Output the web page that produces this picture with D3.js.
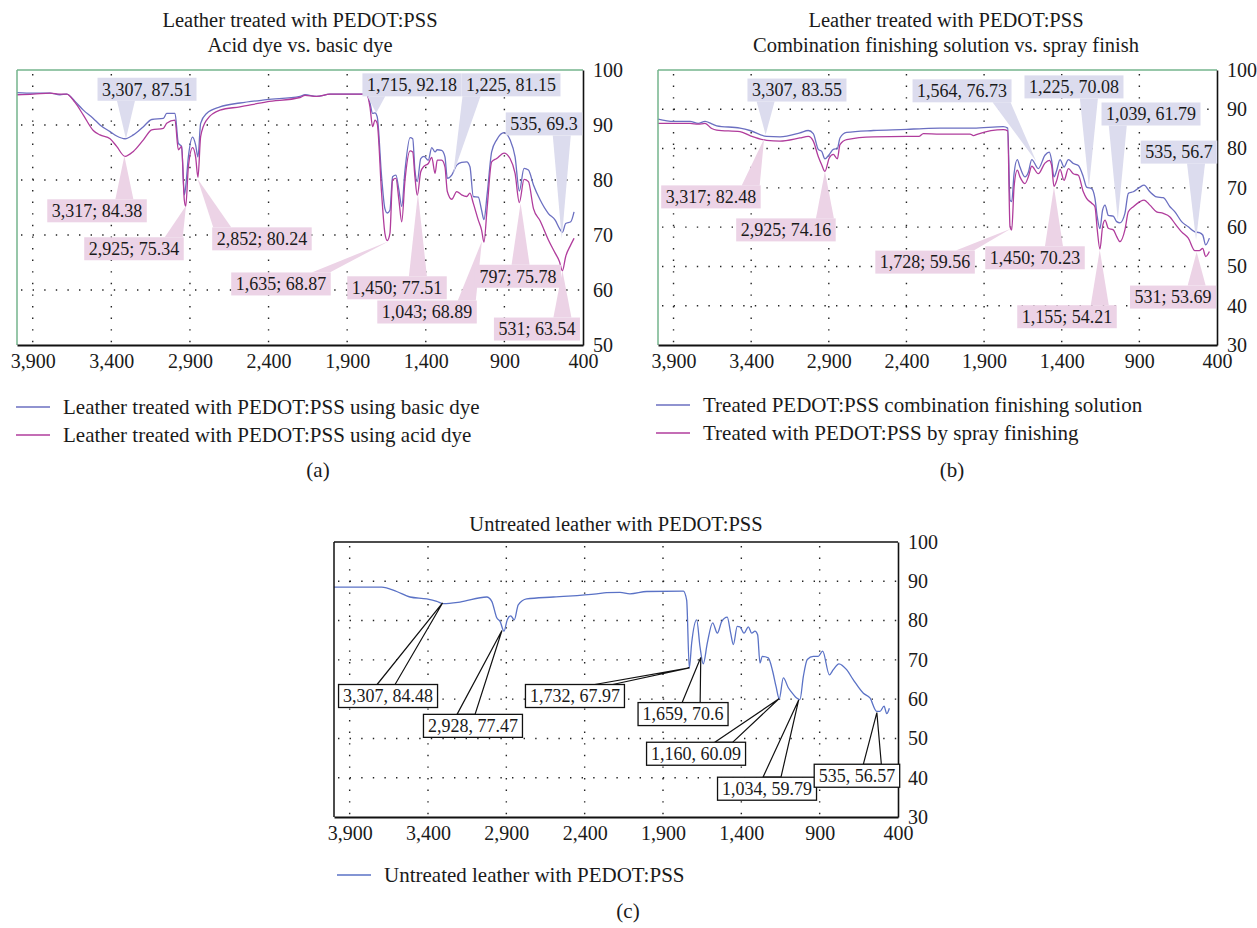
<!DOCTYPE html>
<html>
<head>
<meta charset="utf-8">
<script src="https://cdn.jsdelivr.net/npm/d3@7/dist/d3.min.js"></script>
<style>
body { margin: 0; background: #fff; }
svg text { font-family: "Liberation Serif", "DejaVu Serif", serif; fill: #1a1a1a; }
</style>
</head>
<body>
<div id="chart"></div>
<script>
// ---- data (wavenumber cm-1, transmittance %) ----
var xTicks = [3900, 3400, 2900, 2400, 1900, 1400, 900, 400];
var yTicksA = [50, 60, 70, 80, 90, 100];
var yTicksB = [30, 40, 50, 60, 70, 80, 90, 100];

var basicDye = [[4000,95.9],[3896,95.8],[3790,95.8],[3727,95.5],[3684,95.6],[3631,94.3],[3578,92.7],[3515,91.2],[3472,90.0],[3408,88.8],[3366,88.0],[3313,87.5],[3260,88.2],[3196,89.7],[3143,91.0],[3069,91.2],[3048,92.1],[2995,92.1],[2974,86.7],[2953,86.1],[2936,77.3],[2927,78.8],[2910,84.2],[2883,87.8],[2864,86.4],[2849,84.2],[2832,90.3],[2794,92.1],[2709,93.3],[2582,94.0],[2412,94.6],[2200,95.2],[2168,95.5],[2094,95.2],[2009,95.6],[1946,95.6],[1776,95.6],[1755,94.0],[1738,92.1],[1723,92.2],[1709,91.5],[1681,80.6],[1660,74.8],[1645,74.0],[1628,74.5],[1611,80.6],[1590,80.9],[1571,78.2],[1553,75.2],[1532,81.8],[1500,87.7],[1483,87.5],[1469,81.8],[1454,79.7],[1432,83.9],[1411,84.3],[1384,83.6],[1362,85.9],[1341,85.1],[1327,85.5],[1299,85.4],[1278,84.2],[1263,80.3],[1235,80.9],[1203,82.7],[1172,83.2],[1140,83.3],[1119,82.4],[1098,77.0],[1066,76.9],[1045,74.5],[1030,72.8],[1009,77.6],[981,85.1],[949,87.3],[902,88.6],[864,87.3],[832,84.2],[805,78.0],[775,82.1],[747,81.8],[715,79.1],[673,76.4],[620,73.9],[577,72.7],[550,71.2],[531,70.5],[510,72.1],[478,72.4],[457,74.2]];
var acidDye = [[4000,95.5],[3896,95.6],[3790,95.8],[3727,95.6],[3684,95.6],[3631,94.1],[3578,91.8],[3515,89.0],[3472,88.2],[3408,87.5],[3366,86.1],[3313,84.3],[3260,85.2],[3196,87.3],[3143,89.1],[3069,89.4],[3048,90.3],[2995,90.9],[2974,85.5],[2953,86.1],[2936,76.4],[2927,75.2],[2910,82.4],[2883,85.9],[2864,84.2],[2849,80.5],[2832,87.9],[2794,90.9],[2709,92.7],[2582,93.3],[2412,94.2],[2200,95.0],[2168,95.4],[2094,95.2],[2009,95.6],[1946,95.6],[1776,95.6],[1755,93.3],[1738,89.7],[1723,90.9],[1709,90.3],[1681,77.6],[1660,70.3],[1645,69.0],[1628,70.3],[1611,80.0],[1590,80.3],[1571,76.4],[1553,72.4],[1532,80.0],[1500,85.3],[1483,85.1],[1469,80.6],[1454,77.2],[1432,81.5],[1411,82.5],[1384,83.0],[1362,84.1],[1341,81.2],[1327,83.6],[1299,83.6],[1278,82.4],[1263,77.9],[1235,76.5],[1203,77.9],[1172,77.3],[1140,77.0],[1119,77.6],[1098,75.8],[1066,72.7],[1045,70.9],[1030,68.7],[1009,75.2],[981,83.3],[949,83.9],[902,84.9],[864,83.9],[832,81.2],[805,75.9],[775,80.1],[747,79.7],[715,74.8],[673,72.6],[620,69.1],[577,66.7],[550,65.2],[531,63.5],[510,66.1],[478,68.2],[457,69.4]];

var combination = [[4000,87.5],[3901,86.9],[3794,86.9],[3741,86.4],[3697,86.9],[3654,86.3],[3622,85.8],[3472,85.2],[3408,84.6],[3300,83.1],[3214,83.0],[3086,84.0],[3032,84.6],[3000,83.8],[2968,79.8],[2946,79.3],[2925,77.4],[2897,78.5],[2871,79.8],[2845,80.0],[2828,82.7],[2785,84.1],[2613,84.6],[2398,84.9],[2291,85.1],[2184,85.2],[1969,85.2],[1776,85.6],[1748,85.2],[1733,66.9],[1722,66.5],[1707,73.6],[1686,77.2],[1669,75.3],[1637,72.8],[1615,74.0],[1593,77.2],[1551,74.9],[1508,78.3],[1480,79.1],[1465,77.0],[1450,72.8],[1432,74.5],[1411,77.2],[1385,75.3],[1357,77.2],[1325,76.2],[1293,75.7],[1261,72.8],[1240,70.2],[1207,69.8],[1186,67.3],[1171,62.6],[1154,59.6],[1137,64.3],[1121,65.6],[1100,63.0],[1068,62.8],[1046,61.4],[1025,61.1],[993,63.5],[971,68.6],[939,69.0],[896,70.2],[870,70.7],[832,69.0],[789,67.7],[746,67.5],[703,65.2],[671,63.9],[628,61.4],[585,60.1],[542,58.8],[514,58.6],[492,58.0],[473,55.5],[449,57.2]];
var spray = [[4000,86.4],[3901,86.4],[3794,86.4],[3741,86.2],[3697,86.4],[3654,85.1],[3622,84.7],[3472,84.3],[3408,83.3],[3300,82.1],[3214,81.9],[3086,82.7],[3032,83.1],[3000,81.9],[2968,78.0],[2946,75.9],[2925,74.2],[2897,77.6],[2871,78.5],[2845,77.4],[2828,81.0],[2785,82.3],[2613,83.0],[2398,83.1],[2320,83.1],[2291,83.8],[2184,83.7],[1990,83.7],[1969,83.3],[1940,83.7],[1776,84.8],[1748,84.5],[1733,60.1],[1722,59.3],[1707,70.2],[1686,74.5],[1669,72.8],[1637,71.1],[1615,72.8],[1593,75.5],[1551,73.6],[1508,76.3],[1480,77.0],[1465,75.7],[1450,70.4],[1432,71.9],[1411,74.7],[1385,71.9],[1357,74.9],[1325,73.6],[1293,73.2],[1261,69.0],[1240,67.3],[1207,66.1],[1186,65.2],[1171,59.3],[1154,54.4],[1137,60.1],[1121,61.8],[1100,59.7],[1068,59.3],[1046,57.6],[1025,56.3],[993,59.3],[971,63.9],[939,65.2],[896,66.5],[870,66.9],[832,65.6],[789,63.9],[746,63.5],[703,62.6],[671,60.9],[628,58.8],[585,57.2],[542,54.0],[514,54.0],[492,54.6],[473,52.5],[449,53.8]];

var untreated = [[4000,88.5],[3696,88.5],[3600,87.4],[3515,86.0],[3408,85.5],[3344,84.9],[3302,84.3],[3196,84.7],[3025,86.0],[2993,84.9],[2961,80.7],[2940,79.8],[2915,77.3],[2894,80.2],[2872,81.2],[2849,80.2],[2824,84.0],[2770,85.5],[2600,86.0],[2323,86.8],[2260,87.1],[2174,87.2],[2111,86.8],[2004,87.4],[1770,87.5],[1749,85.2],[1732,67.9],[1717,74.3],[1685,80.2],[1664,73.4],[1643,69.0],[1617,74.3],[1583,79.4],[1553,76.8],[1525,79.8],[1490,80.9],[1468,76.8],[1451,73.9],[1426,78.5],[1409,78.4],[1383,76.8],[1355,78.4],[1334,76.8],[1313,77.3],[1296,76.4],[1281,69.2],[1266,70.9],[1228,70.5],[1200,67.1],[1179,63.3],[1158,60.1],[1132,65.4],[1100,62.9],[1068,61.2],[1047,60.3],[1026,59.9],[1004,65.8],[979,70.1],[941,70.9],[909,70.9],[881,72.2],[838,66.2],[813,67.5],[777,69.0],[728,67.5],[685,64.9],[621,61.5],[579,60.3],[536,56.9],[515,56.9],[489,58.2],[472,56.3],[455,57.7]];

// peak labels: text, peak wavenumber, peak value, series index
var peaksA = [
  ["3,307, 87.51", 3307, 87.51, 0], ["3,317; 84.38", 3317, 84.38, 1],
  ["2,925; 75.34", 2925, 75.34, 1], ["2,852; 80.24", 2852, 80.24, 1],
  ["1,635; 68.87", 1635, 68.87, 1], ["1,715, 92.18", 1715, 92.18, 0],
  ["1,225, 81.15", 1225, 81.15, 0], ["535, 69.3", 535, 69.3, 0],
  ["1,450; 77.51", 1450, 77.51, 1], ["1,043; 68.89", 1043, 68.89, 1],
  ["797; 75.78", 797, 75.78, 1], ["531; 63.54", 531, 63.54, 1]
];
var peaksB = [
  ["3,307, 83.55", 3307, 83.55, 0], ["3,317; 82.48", 3317, 82.48, 1],
  ["2,925; 74.16", 2925, 74.16, 1], ["1,728; 59.56", 1728, 59.56, 1],
  ["1,564, 76.73", 1564, 76.73, 0], ["1,225, 70.08", 1225, 70.08, 0],
  ["1,039, 61.79", 1039, 61.79, 0], ["535, 56.7", 535, 56.7, 0],
  ["1,450; 70.23", 1450, 70.23, 1], ["1,155; 54.21", 1155, 54.21, 1],
  ["531; 53.69", 531, 53.69, 1]
];
var peaksC = [
  ["3,307, 84.48", 3307, 84.48, 0], ["2,928, 77.47", 2928, 77.47, 0],
  ["1,732, 67.97", 1732, 67.97, 0], ["1,659, 70.6", 1659, 70.6, 0],
  ["1,160, 60.09", 1160, 60.09, 0], ["1,034, 59.79", 1034, 59.79, 0],
  ["535, 56.57", 535, 56.57, 0]
];

// label box centres in axis units, plus optional pointer base position along the box (layout only)
var boxA = [[3173,96.5],[3491,74.4],[3256,67.5],[2442,69.3],[2321,61.1],[1488,97.3],[858,97.3],[648,90.2],[1583,60.4],[1392,56.0],[814,62.5],[693,52.9]];
var boxB = [[3105,94.9],[3659,67.7],[3176,59.3],[2280,51.1],[2042,94.7],[1321,95.7],[825,88.8],[645,79.1],[1572,52.2],[1366,37.2],[683,42.2]];
var boxC = [[3655,60.8,0.48],[3113,53.2,0.43],[2462,60.8,0.79],[1772,56.2,0.59],[1689,46.1,0.78],[1236,37.2,0.55],[662,40.5,0.68]];

var blue = "#6b6fc1", magenta = "#b03c9c", blueC = "#5a72c6";
var fillBlue = "#dcdcee", fillMag = "#ecd3e6";
var green = "#74b48c";

var svg = d3.select("#chart").append("svg")
    .attr("width", 1257).attr("height", 928);

function drawPanel(p) {
  var g = svg.append("g");
  var x = d3.scaleLinear().domain([4000, 400]).range([p.left, p.left + p.width]);
  var y = d3.scaleLinear().domain(p.yDomain).range([p.top + p.height, p.top]);

  // dotted grid
  g.selectAll(".vg").data(xTicks.slice(0, -1)).enter().append("line")
    .attr("x1", d => x(d)).attr("x2", d => x(d))
    .attr("y1", p.top + 4).attr("y2", p.top + p.height)
    .attr("stroke", "#222").attr("stroke-width", 1.4)
    .attr("stroke-dasharray", "1.4,10.2");
  g.selectAll(".hg").data(p.yTicks.slice(1, -1)).enter().append("line")
    .attr("x1", p.left + 4).attr("x2", p.left + p.width)
    .attr("y1", d => y(d)).attr("y2", d => y(d))
    .attr("stroke", "#222").attr("stroke-width", 1.4)
    .attr("stroke-dasharray", "1.4,10.2");

  var line = d3.line().x(d => x(d[0])).y(d => y(d[1])).curve(d3.curveMonotoneX);
  p.series.forEach(function(s) {
    g.append("path").datum(s.values)
      .attr("d", line).attr("fill", "none")
      .attr("stroke", s.color).attr("stroke-width", 1.3);
  });

  // frame
  var fc = p.frameColor;
  g.append("line").attr("x1", p.left).attr("x2", p.left)
    .attr("y1", p.top).attr("y2", p.top + p.height)
    .attr("stroke", fc).attr("stroke-width", 1.5);
  g.append("line").attr("x1", p.left).attr("x2", p.left + p.width)
    .attr("y1", p.top).attr("y2", p.top)
    .attr("stroke", fc).attr("stroke-width", 1.5);

  var ax = g.append("g").attr("transform", "translate(0," + (p.top + p.height) + ")")
    .call(d3.axisBottom(x).tickValues(xTicks).tickSize(0).tickPadding(9).tickFormat(d3.format(",")));
  ax.select(".domain").attr("stroke", "#111").attr("stroke-width", 2.2);
  ax.selectAll("text").style("font-size", "20px").style("font-family", "Liberation Serif");

  var ay = g.append("g").attr("transform", "translate(" + (p.left + p.width) + ",0)")
    .call(d3.axisRight(y).tickValues(p.yTicks).tickSize(0).tickPadding(10));
  ay.select(".domain").attr("stroke", "#111").attr("stroke-width", 1.6);
  ay.selectAll("text").style("font-size", "20px").style("font-family", "Liberation Serif");

  // titles
  p.titles.forEach(function(t, i) {
    g.append("text").attr("x", p.titleX).attr("y", p.titleY + i * 25)
      .attr("text-anchor", "middle").style("font-size", "20.5px").text(t);
  });

  // peak callouts
  var wedges = g.append("g"), boxes = g.append("g");
  p.peaks.forEach(function(pk, i) {
    var tx = x(pk[1]), ty = y(pk[2]);
    var cx = x(p.boxes[i][0]), cy = y(p.boxes[i][1]);
    var s = p.series[pk[3]];
    var fillC = p.outline ? "#fff" : s.fill;
    var txt = boxes.append("text").attr("x", cx).attr("y", cy)
      .attr("text-anchor", "middle").attr("dy", "0.35em")
      .style("font-size", "18px").text(pk[0]);
    var w = txt.node().getComputedTextLength() + 9, h = 23;
    var l = cx - w / 2, r = cx + w / 2, t = cy - h / 2, b = cy + h / 2;
    var bx = p.boxes[i].length > 2 ? l + w * p.boxes[i][2]
                                   : Math.max(l + 10, Math.min(r - 10, tx));
    var by = ty < cy ? t : b;
    var half = 9;
    wedges.append("path")
      .attr("d", "M" + (bx - half) + "," + by + "L" + tx + "," + ty + "L" + (bx + half) + "," + by + "Z")
      .attr("fill", fillC)
      .attr("stroke", p.outline ? "#111" : "none").attr("stroke-width", 1.2);
    boxes.insert("rect", "text")
      .attr("x", l).attr("y", t).attr("width", w).attr("height", h)
      .attr("fill", fillC)
      .attr("stroke", p.outline ? "#111" : "none").attr("stroke-width", 1.3);
  });

  // legend
  p.series.forEach(function(s, i) {
    var ly = p.legendY + i * 28;
    g.append("line").attr("x1", p.legendX).attr("x2", p.legendX + 34)
      .attr("y1", ly).attr("y2", ly).attr("stroke", s.color).attr("stroke-width", 1.3);
    g.append("text").attr("x", p.legendX + 47).attr("y", ly).attr("dy", "0.35em")
      .style("font-size", "21px").text(s.name);
  });
  g.append("text").attr("x", p.tagX).attr("y", p.tagY).attr("dy", "0.35em")
    .attr("text-anchor", "middle").style("font-size", "21px").text(p.tag);
}

drawPanel({
  left: 17, top: 70, width: 566, height: 275, yDomain: [50, 100], yTicks: yTicksA,
  frameColor: green, outline: false,
  titles: ["Leather treated with PEDOT:PSS", "Acid dye vs. basic dye"], titleX: 300, titleY: 27,
  series: [
    {name: "Leather treated with PEDOT:PSS using basic dye", values: basicDye, color: blue, fill: fillBlue},
    {name: "Leather treated with PEDOT:PSS using acid dye", values: acidDye, color: magenta, fill: fillMag}
  ],
  peaks: peaksA, boxes: boxA,
  legendX: 16, legendY: 407, tag: "(a)", tagX: 318, tagY: 470
});

drawPanel({
  left: 658, top: 70, width: 559, height: 275, yDomain: [30, 100], yTicks: yTicksB,
  frameColor: green, outline: false,
  titles: ["Leather treated with PEDOT:PSS", "Combination finishing solution vs. spray finish"], titleX: 946, titleY: 27,
  series: [
    {name: "Treated PEDOT:PSS combination finishing solution", values: combination, color: blue, fill: fillBlue},
    {name: "Treated with PEDOT:PSS by spray finishing", values: spray, color: magenta, fill: fillMag}
  ],
  peaks: peaksB, boxes: boxB,
  legendX: 656, legendY: 405, tag: "(b)", tagX: 952, tagY: 470
});

drawPanel({
  left: 334, top: 542, width: 564, height: 275, yDomain: [30, 100], yTicks: yTicksB,
  frameColor: "#111", outline: true,
  titles: ["Untreated leather with PEDOT:PSS"], titleX: 616, titleY: 531,
  series: [
    {name: "Untreated leather with PEDOT:PSS", values: untreated, color: blueC, fill: "#fff"}
  ],
  peaks: peaksC, boxes: boxC,
  legendX: 337, legendY: 875, tag: "(c)", tagX: 628, tagY: 911
});
</script>
</body>
</html>
